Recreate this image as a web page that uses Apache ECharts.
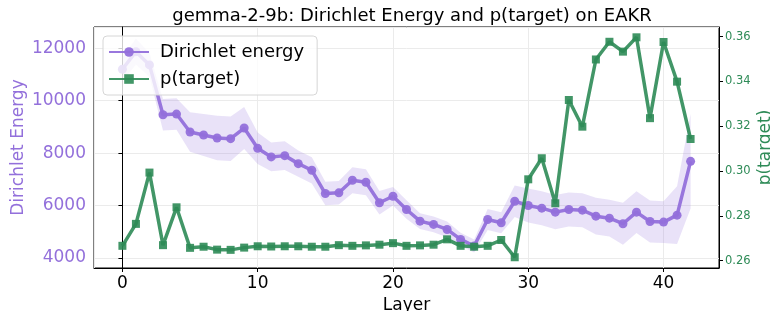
<!DOCTYPE html>
<html>
<head>
<meta charset="utf-8">
<script src="https://cdn.jsdelivr.net/npm/echarts@6/dist/echarts.min.js"></script>
<style>
  html, body { margin: 0; padding: 0; background: #fff; }
  #chart { width: 770px; height: 311px; }
</style>
</head>
<body>
<div id="chart"></div>
<script>
// layers 0..42
const layers = [0, 1, 2, 3, 4, 5, 6, 7, 8, 9, 10, 11, 12, 13, 14, 15, 16, 17, 18, 19, 20,
  21, 22, 23, 24, 25, 26, 27, 28, 29, 30, 31, 32, 33, 34, 35, 36, 37, 38, 39, 40, 41, 42];

// Dirichlet energy (mean) and its spread (shaded band)
const energyMean = [11200, 11870, 11365, 9464, 9490, 8806, 8692, 8578, 8551, 8958, 8183,
  7856, 7905, 7600, 7346, 6460, 6487, 6966, 6890, 6107, 6357, 5850, 5407, 5281, 5090,
  4711, 4457, 5471, 5346, 6167, 6004, 5901, 5750, 5850, 5825, 5597, 5521, 5308, 5750,
  5395, 5370, 5636, 7688];
const energyStd = [450, 500, 450, 600, 600, 750, 800, 850, 850, 800, 600, 550, 550, 500,
  500, 450, 450, 500, 500, 450, 350, 350, 300, 300, 300, 250, 250, 400, 400, 600, 650,
  650, 650, 650, 650, 700, 700, 800, 800, 800, 800, 1100, 1800];

// p(target)
const pTarget = [0.2666, 0.2764, 0.2993, 0.2669, 0.2838, 0.2657, 0.2662, 0.2649, 0.2648,
  0.2658, 0.2664, 0.2663, 0.2664, 0.2664, 0.2662, 0.2662, 0.2669, 0.2666, 0.2668, 0.2671,
  0.2678, 0.2666, 0.2668, 0.2671, 0.2695, 0.2666, 0.2662, 0.2666, 0.2692, 0.2615, 0.2963,
  0.3057, 0.2856, 0.3317, 0.3198, 0.3498, 0.3577, 0.3533, 0.3597, 0.3236, 0.3576, 0.3399,
  0.3143];

const PURPLE = '#9370DB';
const GREEN = '#2E8B57';
const FONT = 'DejaVu Sans';

const chart = echarts.init(document.getElementById('chart'));

// band rows: [layer, low, high]
const bandRows = layers.map((l, i) => [l, energyMean[i] - energyStd[i], energyMean[i] + energyStd[i]]);

function renderBand(params, api) {
  // draw the whole band once as one polygon
  if (params.dataIndex !== 0) return null;
  const top = bandRows.map(r => api.coord([r[0], r[2]]));
  const bottom = bandRows.map(r => api.coord([r[0], r[1]])).reverse();
  return {
    type: 'polygon',
    shape: { points: top.concat(bottom) },
    style: { fill: PURPLE, opacity: 0.2 },
    silent: true
  };
}

chart.setOption({
  animation: false,
  textStyle: { fontFamily: FONT },
  title: {
    text: 'gemma-2-9b: Dirichlet Energy and p(target) on EAKR',
    left: 407,
    top: 2,
    textAlign: 'center',
    textStyle: { fontFamily: FONT, fontSize: 18, fontWeight: 'normal', color: '#000' }
  },
  grid: {
    left: 94, right: 51, top: 27, bottom: 43,
    containLabel: false,
    outerBoundsMode: 'none',
    show: true, borderColor: '#000', borderWidth: 1, backgroundColor: 'transparent'
  },
  legend: {
    data: ['Dirichlet energy', 'p(target)'],
    orient: 'vertical',
    left: 103, top: 36,
    itemWidth: 40, itemHeight: 12, itemGap: 9,
    padding: [7, 13, 7, 5],
    backgroundColor: 'rgba(255,255,255,0.8)',
    borderColor: '#d6d6d6', borderWidth: 1, borderRadius: 4,
    textStyle: { fontFamily: FONT, fontSize: 18, color: '#000', padding: [0, 0, 0, 6] }
  },
  xAxis: {
    type: 'value',
    min: -2.1, max: 44.1,
    splitNumber: 5,
    name: 'Layer', nameLocation: 'middle', nameGap: 29, nameMoveOverlap: false,
    nameTextStyle: { fontFamily: FONT, fontSize: 17, color: '#000' },
    axisLine: { show: true, lineStyle: { color: '#000', width: 1 } },
    axisTick: { show: true, inside: false, length: 4, lineStyle: { color: '#000' } },
    axisLabel: { fontFamily: FONT, fontSize: 17, color: '#000', margin: 7,
      showMinLabel: false, showMaxLabel: false },
    splitLine: { show: true, lineStyle: { color: '#ebebeb', width: 1 } }
  },
  yAxis: [
    {
      type: 'value',
      min: 3620, max: 12810,
      splitNumber: 5,
      name: 'Dirichlet Energy', nameLocation: 'middle', nameGap: 67, nameMoveOverlap: false,
      nameTextStyle: { fontFamily: FONT, fontSize: 17, color: PURPLE },
      axisLine: { show: true, lineStyle: { color: '#000', width: 1 } },
      axisTick: { show: true, inside: false, length: 4, lineStyle: { color: '#000' } },
      axisLabel: { fontFamily: FONT, fontSize: 17, color: PURPLE, margin: 8,
        showMinLabel: false, showMaxLabel: false,
        formatter: v => String(v) },
      splitLine: { show: true, lineStyle: { color: '#ebebeb', width: 1 } }
    },
    {
      type: 'value',
      min: 0.2567, max: 0.3643,
      splitNumber: 5,
      position: 'right',
      name: 'p(target)', nameLocation: 'middle', nameGap: 38, nameRotate: 90,
      nameMoveOverlap: false,
      nameTextStyle: { fontFamily: FONT, fontSize: 17, color: GREEN },
      axisLine: { show: true, lineStyle: { color: '#000', width: 1 } },
      axisTick: { show: true, inside: false, length: 4, lineStyle: { color: '#000' } },
      axisLabel: { fontFamily: FONT, fontSize: 11.5, color: GREEN, margin: 6,
        showMinLabel: false, showMaxLabel: false,
        formatter: v => v.toFixed(2) },
      splitLine: { show: false }
    }
  ],
  series: [
    {
      name: 'band',
      type: 'custom',
      yAxisIndex: 0,
      data: bandRows,
      encode: { x: 0, y: [1, 2] },
      renderItem: renderBand,
      clip: true,
      silent: true,
      z: 1
    },
    {
      name: 'Dirichlet energy',
      type: 'line',
      yAxisIndex: 0,
      data: layers.map((l, i) => [l, energyMean[i]]),
      symbol: 'circle',
      symbolSize: 9,
      itemStyle: { color: PURPLE, opacity: 0.95 },
      lineStyle: { color: PURPLE, width: 3.5, opacity: 0.95 },
      z: 3
    },
    {
      name: 'p(target)',
      type: 'line',
      yAxisIndex: 1,
      data: layers.map((l, i) => [l, pTarget[i]]),
      symbol: 'rect',
      symbolSize: 8,
      itemStyle: { color: GREEN, opacity: 0.9 },
      lineStyle: { color: GREEN, width: 3.5, opacity: 0.9 },
      z: 4
    }
  ]
});
</script>
</body>
</html>
